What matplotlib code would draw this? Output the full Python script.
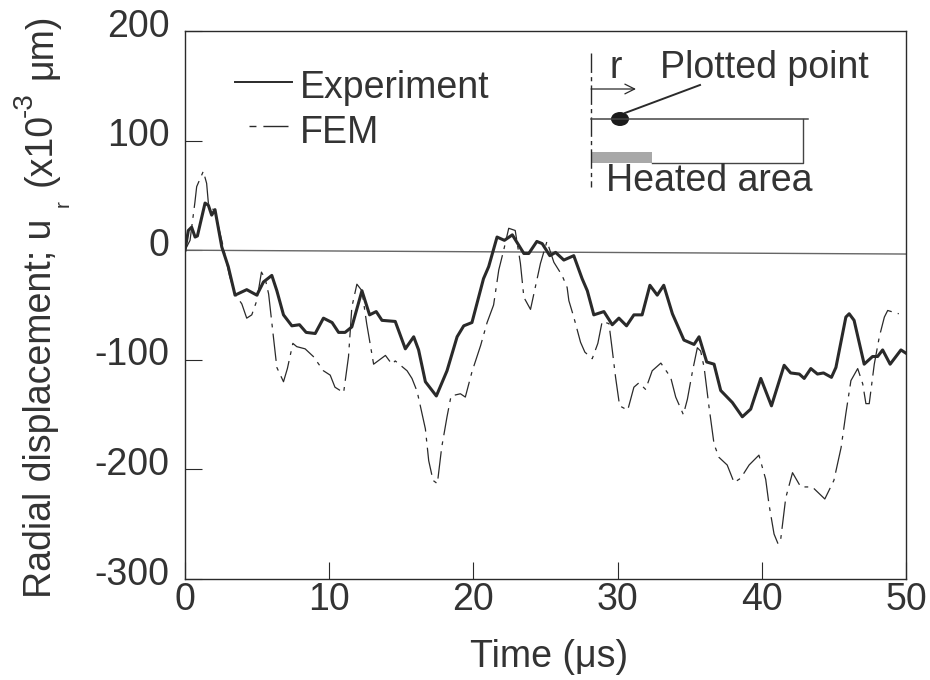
import matplotlib

matplotlib.use("Agg")
import matplotlib.pyplot as plt
from matplotlib.patches import Ellipse, Rectangle
from matplotlib.transforms import ScaledTranslation

plt.rcParams["font.family"] = ["Liberation Sans", "DejaVu Sans"]
plt.rcParams["axes.unicode_minus"] = False

exp_time = [0, 0.23, 0.46, 0.7, 0.86, 1.39, 1.62, 1.85, 2.08, 2.55, 3.0, 3.47, 4.28, 4.98, 5.44, 6.02,
            6.37, 6.83, 7.41, 7.94, 8.4, 9.03, 9.6, 10.2, 10.65, 11.1, 11.57, 12.27, 12.8, 13.26, 13.66,
            14.58, 15.28, 15.86, 16.2, 16.67, 17.43, 18.17, 18.87, 19.33, 19.9, 20.7, 21.06, 21.64, 22.15,
            22.7, 23.5, 23.84, 24.4, 24.77, 25.3, 25.7, 26.27, 26.96, 27.54, 27.9, 28.35, 29.05, 29.63,
            30.09, 30.62, 31.13, 31.7, 32.24, 32.75, 33.2, 33.8, 34.6, 35.3, 35.65, 36.18, 36.69, 37.15,
            37.96, 38.65, 39.23, 39.93, 40.67, 41.55, 42.0, 42.6, 42.94, 43.4, 43.86, 44.28, 44.83, 45.14,
            45.83, 46.06, 46.4, 47.1, 47.68, 48.03, 48.38, 48.9, 49.65, 50]
exp_disp = [0, 18, 21, 12, 13, 43, 41, 32, 37, 3, -15, -41, -36, -41, -29, -23,
            -37, -59, -69, -68, -75, -76, -62, -66, -75, -75, -70, -37, -59, -56, -64,
            -65, -90, -79, -91, -120, -133, -110, -79, -69, -66, -26, -15, 12, 9,
            14, -3, -3, 8, 6, -5, -2, -9, -5, -26, -37, -59, -56, -68,
            -62, -69, -59, -59, -32, -41, -32, -58, -82, -86, -79, -102, -104, -128,
            -139, -152, -145, -117, -142, -105, -112, -113, -117, -108, -113, -112, -116, -107,
            -61, -58, -64, -104, -97, -97, -91, -104, -91, -94]

fem_time = [0, 0.35, 0.69, 0.81, 1.27, 1.5, 1.62, 2.08, 2.6, 3.1, 3.47, 3.94, 4.28, 4.63, 4.98, 5.3,
            5.56, 5.8, 6.13, 6.37, 6.83, 7.1, 7.48, 7.75, 8.33, 8.9, 9.6, 10.07, 10.4, 11.0, 11.34,
            11.57, 11.92, 12.27, 12.6, 13.08, 13.9, 14.35, 14.58, 15.4, 15.74, 16.1, 16.67, 16.9, 17.2,
            17.5, 17.8, 18.17, 18.45, 19.1, 19.44, 19.9, 20.5, 20.95, 21.4, 21.76, 22.1, 22.45, 22.9,
            23.26, 23.5, 23.96, 24.24, 24.65, 25.1, 25.58, 26.15, 26.5, 26.62, 26.96, 27.43, 27.73, 28.24,
            28.63, 28.93, 29.4, 29.63, 29.86, 30.14, 30.7, 31.13, 31.48, 31.94, 32.4, 33.0, 33.68, 34.03,
            34.56, 34.84, 35.2, 35.53, 35.76, 36.0, 36.34, 36.69, 37.03, 37.6, 38.08, 38.54, 39.12, 39.8,
            40.27, 40.5, 40.85, 41.13, 41.3, 41.66, 42.13, 42.7, 43.5, 44.37, 45.0, 45.5, 45.83, 46.18,
            46.65, 47.0, 47.22, 47.45, 47.8, 48.15, 48.5, 48.73, 49.5]
fem_disp = [0, 9, 44, 58, 72, 61, 43, 35, 6, -24, -40, -49, -62, -59, -46, -20,
            -26, -40, -79, -107, -120, -108, -85, -88, -90, -97, -110, -114, -125, -130, -97,
            -52, -31, -37, -67, -104, -96, -104, -101, -110, -117, -129, -163, -192, -210,
            -213, -180, -152, -133, -131, -134, -111, -87, -66, -50, -18, 0, 20, 18,
            -12, -43, -54, -37, -12, 8, -11, -23, -34, -46, -61, -84, -93, -99,
            -85, -65, -67, -91, -116, -142, -146, -125, -121, -127, -110, -103, -116, -134,
            -150, -136, -110, -89, -92, -107, -143, -177, -189, -196, -212, -208, -196, -187,
            -209, -232, -259, -268, -265, -226, -203, -216, -216, -227, -210, -180, -149, -119,
            -108, -122, -140, -140, -104, -79, -61, -55, -58]

zero_time = [0, 50]
zero_disp = [0, -3.5]

x_ticks = [0, 10, 20, 30, 40, 50]
y_ticks = [-300, -200, -100, 0, 100, 200]

INK = "#2a2a2a"
TEXT = "#333333"
FS = 27

figure = plt.figure(figsize=(9.3, 6.8), dpi=100)
ax = figure.add_axes([185 / 930, 1 - 579 / 680, (906 - 185) / 930, (579 - 31) / 680])

ax.plot(zero_time, zero_disp, color="#666666", linewidth=1.0)
ax.plot(fem_time, fem_disp, color=INK, linewidth=0.9, linestyle=(0, (22, 5, 3, 5)))
ax.plot(exp_time, exp_disp, color=INK, linewidth=2.2, solid_joinstyle="round")

ax.set_xlim(0, 50)
ax.set_ylim(-300, 200)
ax.set_xticks(x_ticks)
ax.set_yticks(y_ticks)
ax.tick_params(direction="in", length=12, width=0.8, color=INK, labelsize=FS, labelcolor=TEXT)
ax.tick_params(axis="x", pad=2)
ax.tick_params(axis="y", pad=11)
for label in ax.get_yticklabels():
    label.set_transform(label.get_transform() + ScaledTranslation(0, 6 / 72, figure.dpi_scale_trans))
for spine in ax.spines.values():
    spine.set_linewidth(1.0)
    spine.set_color(INK)

# overlay in image pixels for the hand drawn inset and labels
over = figure.add_axes([0, 0, 1, 1], facecolor="none")
over.set_xlim(0, 930)
over.set_ylim(680, 0)
over.axis("off")

ylabel_parts = [
    (51, 598, "Radial displacement; u", FS),
    (69, 207, "r", 15),
    (51, 186, "(x10", FS),
    (32, 117, "-3", 20),
    (51, 79, "μm)", FS),
]
for x_px, y_px, part, size in ylabel_parts:
    over.text(x_px, y_px, part, rotation=90, rotation_mode="anchor", ha="left", va="baseline",
              fontsize=size, color=TEXT)
over.text(549, 667, "Time (μs)", ha="center", va="baseline", fontsize=FS, color=TEXT)

over.plot([235, 292], [82, 82], color=INK, linewidth=1.4)
over.plot([249, 288], [126, 126], color=INK, linewidth=1.0, linestyle=(0, (5, 5, 25, 3)))
over.text(300, 98, "Experiment", fontsize=FS, color=TEXT, va="baseline")
over.text(300, 143, "FEM", fontsize=FS, color=TEXT, va="baseline")

over.plot([591, 591], [53, 187], color=INK, linewidth=1.0, linestyle=(0, (14, 3, 3, 3)))
over.annotate("", xy=(636, 89), xytext=(591, 89),
              arrowprops=dict(arrowstyle="->,head_length=0.7,head_width=0.35", color=INK, linewidth=0.9,
                              shrinkA=0, shrinkB=0))
over.plot([591, 808], [119, 119], color="#444444", linewidth=1.1)
over.plot([803, 803, 652], [119, 163, 163], color="#444444", linewidth=1.0)
over.add_patch(Rectangle((591, 152), 61, 11, facecolor="#a8a8a8", edgecolor="none"))
over.add_patch(Ellipse((620, 119), 18, 14, facecolor="#1c1c1c", edgecolor="none"))
over.plot([625, 700], [113, 85], color=INK, linewidth=1.4)
over.text(609, 78, "r", fontsize=FS, color=TEXT, va="baseline")
over.text(660, 78, "Plotted point", fontsize=FS, color=TEXT, va="baseline")
over.text(606, 191, "Heated area", fontsize=FS, color=TEXT, va="baseline")

figure.savefig("out.png", dpi=100)
plt.close(figure)
